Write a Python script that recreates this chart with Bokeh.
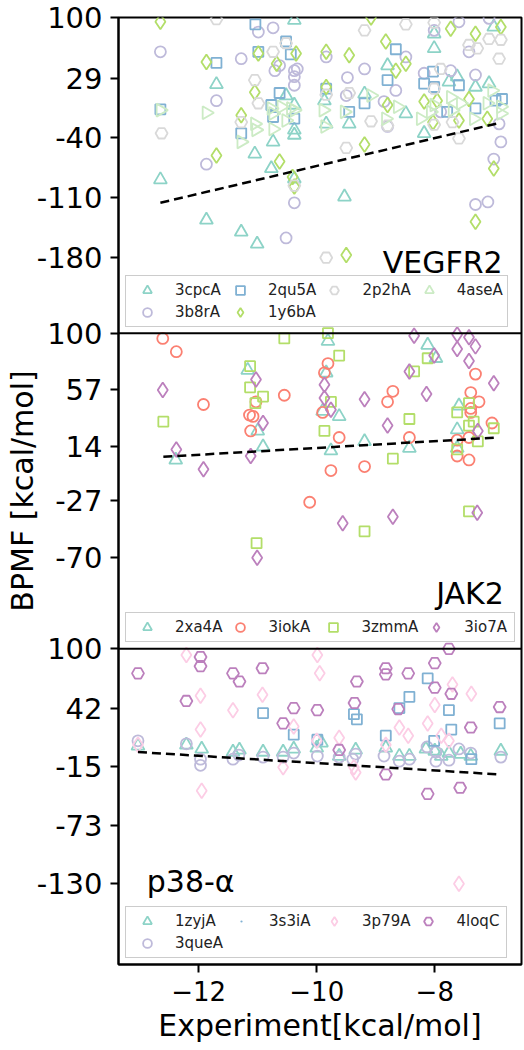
import math
from bokeh.plotting import figure
from bokeh.models import Range1d, FixedTicker, Legend, LegendItem, Span
from bokeh.embed import file_html
from bokeh.resources import INLINE
from bokeh.core.properties import value

FONT = "DejaVu Sans"

# ---------------- shared axis data ----------------
x_limits = [-13.36, -6.53]
x_ticks = [-12, -10, -8]
x_tick_labels = ["\u221212", "\u221210", "\u22128"]

# ---------------- VEGFR2 ----------------
vegfr2_ylim = [-268, 100]
vegfr2_ticks = [100, 29, -40, -110, -180]

vegfr2_3cpcA_x = [-10.38, -11.70, -8.01, -8.01, -8.80, -7.76, -7.62, -7.31, -7.08, -7.00, -10.52, -10.38, -9.87, -9.19, -9.45,
                  -9.84, -10.38, -10.38, -10.74, -11.05, -10.77, -8.18, -8.49, -12.65, -11.87, -11.28, -11.01, -10.38, -9.53]
vegfr2_3cpcA_y = [97, 22, 81, 64, 44, 25, 31, 19, 23, 89, 9, -2, 3, 11, -24,
                  -24, -31, -37, -45, -59, -76, -35, -12, -89, -136, -150, -164, -88, -109]

vegfr2_2qu5A_x = [-11.04, -10.99, -10.52, -10.44, -11.70, -12.65, -11.28, -10.63, -10.77, -10.74, -10.38, -9.84, -9.45, -9.19,
                  -8.66, -8.80, -8.18, -8.03, -8.01, -7.59, -7.79, -7.31, -6.97, -6.86]
vegfr2_2qu5A_y = [92, 60, 72, 57, 47, -7, -35, 12, -2, -16, -18, 17, -10, 0,
                  63, 27, 23, 37, 19, 21, -10, -6, 3, 5]

vegfr2_2p2hA_x = [-11.70, -9.19, -8.49, -8.01, -7.42, -7.28, -7.08, -6.88, -6.91, -10.74, -10.52, -11.05, -10.99, -11.28,
                  -12.63, -9.84, -9.45, -9.08, -9.50, -8.80, -8.01, -7.70, -7.59, -7.90, -8.01, -10.38, -9.84]
vegfr2_2p2hA_y = [98, 85, 92, 94, 68, 64, 75, 74, 52, 60, 70, 27, 0, -22,
                  -35, 10, 12, -21, -52, -26, -25, -22, -41, 40, 17, -96, -180]

vegfr2_3b8rA_x = [-12.65, -11.87, -11.70, -11.28, -10.99, -10.74, -10.71, -10.63, -10.38, -10.38, -10.38, -10.33, -9.84, -9.48,
                  -9.19, -9.50, -8.86, -8.66, -8.49, -8.18, -8.01, -7.90, -7.73, -7.59, -7.42, -7.31, -7.08, -6.91, -6.88,
                  -7.00, -8.80, -10.38, -10.52, -7.31, -7.10]
vegfr2_3b8rA_y = [60, -71, 3, 52, 83, 88, 38, 44, 38, 31, 21, 40, 54, 30,
                  40, 9, 2, 15, 54, 35, 85, -10, 38, 95, 60, 33, 99, -24, -45,
                  -65, -27, -116, -157, -118, -115]

vegfr2_4aseA_x = [-12.65, -11.87, -11.28, -11.05, -11.03, -10.77, -10.74, -10.74, -10.60, -10.52, -10.44, -10.38, -9.89, -9.86,
                  -9.53, -9.08, -8.83, -8.63, -8.24, -8.07, -8.01, -7.73, -7.70, -7.56, -7.34, -7.11, -7.03, -6.88, -6.88]
vegfr2_4aseA_y = [-8, -11, -45, -24, -31, -6, -12, -30, -4, -20, -6, -8, -8, -27,
                  -10, 9, -18, -4, -18, -10, -2, 7, -8, 0, -18, 0, 15, -4, -12]

vegfr2_1y6bA_x = [-12.65, -11.87, -11.70, -11.28, -11.05, -10.99, -10.68, -10.63, -10.35, -9.84, -9.84, -9.45, -9.19, -9.08,
                  -8.83, -8.80, -8.66, -8.49, -8.18, -8.03, -7.96, -7.73, -7.59, -7.42, -7.31, -7.11, -6.88, -7.00,
                  -10.41, -10.38, -7.31, -9.50]
vegfr2_1y6bA_y = [95, 48, -61, -14, 13, 58, 46, -68, 58, 60, 19, 56, -48, 100,
                  72, -2, 38, 46, 2, -22, 3, 87, -20, 5, 81, -18, 89, -76,
                  -86, -97, -138, -177]

vegfr2_fit_x = [-12.65, -6.88]
vegfr2_fit_y = [-116, -22.5]
vegfr2_name = "VEGFR2"
vegfr2_name_xy = [-6.85, -186.1]

# ---------------- JAK2 ----------------
jak2_ylim = [-139, 100]
jak2_ticks = [100, 57, 14, -27, -70]

jak2_2xa4A_x = [-12.39, -11.17, -11.00, -10.91, -9.81, -9.84, -9.90, -9.76, -9.62, -9.19, -8.43, -8.12, -7.98, -7.62, -7.59, -7.62]
jak2_2xa4A_y = [4, 72, 26, 14, 94, 70, 41, 11, 37, 18, 13, 91, 81, 27, 45, 13]

jak2_3iokA_x = [-12.61, -12.38, -11.92, -11.12, -11.08, -11.14, -11.03, -10.55, -9.87, -9.81, -9.90, -9.76, -9.62, -9.19,
                -8.80, -8.71, -8.43, -7.62, -7.62, -7.42, -7.42, -7.39, -7.39, -7.39, -7.31, -7.25, -7.03, -10.12]
jak2_3iokA_y = [96, 86, 46, 26, 37, 38, 48, 53, 70, 77, 40, -4, 21, -1,
                48, 56, 21, 19, 7, 4, 21, 55, 43, 40, 69, 48, 32, -28]

jak2_3zmmA_x = [-12.60, -11.13, -11.13, -11.04, -10.91, -10.55, -9.81, -9.62, -9.76, -9.87, -8.71, -8.43, -8.35, -8.12,
                -7.62, -7.62, -7.42, -7.42, -7.34, -7.27, -7.00, -11.02, -9.19, -7.42]
jak2_3zmmA_y = [33, 75, 59, 47, 52, 96, 100, 83, 48, 26, 5, 35, 71, 81,
                40, 12, 47, 30, 33, 18, 28, -59, -50, -35]

jak2_3io7A_x = [-12.61, -12.38, -11.92, -11.12, -11.03, -10.91, -9.87, -9.87, -9.76, -9.19, -8.80, -8.43, -8.35, -8.14,
                -8.01, -7.62, -7.62, -7.42, -7.42, -7.31, -7.27, -7.00, -11.01, -9.56, -8.71, -7.28]
jak2_3io7A_y = [57, 12, -3, 7, 65, 32, 61, 51, 42, 50, 30, 71, 98, 54,
                83, 99, 88, 79, 97, 90, 26, 62, -70, -44, -39, -36]

jak2_fit_x = [-12.60, -7.00]
jak2_fit_y = [6.4, 20.8]
jak2_name = "JAK2"
jak2_name_xy = [-6.83, -97.1]

# ---------------- p38-alpha ----------------
p38_ylim = [-209, 100]
p38_ticks = [100, 42, -15, -73, -130]

p38_1zyjA_x = [-13.03, -12.21, -11.95, -11.42, -11.31, -10.91, -10.57, -10.39, -10.00, -9.92, -9.62, -9.34, -8.83, -8.60,
               -8.43, -8.15, -8.00, -7.89, -7.76, -7.56, -7.39, -6.88]
p38_1zyjA_y = [5, 6, 2, -1, 1, -1, -1, 2, 3, 8, -5, 1, 3, -5,
               -5, 2, 0, -5, -2, -3, -5, 0]

p38_3queA_x = [-13.03, -12.21, -11.97, -11.97, -11.42, -11.32, -10.91, -10.57, -10.39, -9.99, -9.62, -9.34, -9.39, -8.86,
               -8.60, -8.43, -8.13, -7.98, -7.98, -7.76, -7.59, -7.39, -6.88]
p38_3queA_y = [10, 7, -8, -14, -8, -4, -6, -6, -2, -5, -6, -3, -8, -5,
               -10, -8, 4, -1, -10, -9, 2, -2, -6]

p38_3s3iA_x = [-10.91, -10.39, -9.99, -9.37, -9.32, -8.83, -8.60, -8.43, -8.12, -8.01, -7.76, -7.72, -7.38, -6.90]
p38_3s3iA_y = [37, 16, 11, 36, 31, 15, 42, 53, 71, 10, 40, 21, -8, 27]

p38_3p79A_x = [-13.03, -12.21, -11.97, -11.97, -11.95, -11.42, -10.92, -10.57, -10.39, -9.99, -9.95, -10.00, -9.62, -9.37,
               -9.34, -8.83, -8.60, -8.45, -8.12, -8.00, -7.89, -7.76, -7.70, -7.38, -7.59]
p38_3p79A_y = [6, 94, 54, 21, -39, 40, 55, -16, 24, 94, 76, 10, 13, -16,
               -21, 6, 23, 15, 27, 45, 15, 10, 65, 56, -130]

p38_4loqC_x = [-13.03, -12.21, -11.97, -11.97, -11.42, -11.31, -10.92, -10.57, -10.39, -9.99, -9.62, -9.36, -9.32, -8.83,
               -8.83, -8.83, -8.62, -8.45, -8.12, -8.00, -8.00, -7.76, -7.72, -7.57, -7.39, -6.90]
p38_4loqC_y = [76, 49, 92, 83, 76, 68, 81, 27, 42, 40, 1, 47, 68, 81,
               75, -23, 41, 76, -42, 86, 62, 100, 56, -36, 23, 43]

p38_fit_x = [-13.03, -6.90]
p38_fit_y = [-1, -23]
p38_name = "p38-\u03b1"
p38_name_xy = [-12.88, -127.3]

x_title = "Experiment[kcal/mol]"
y_title = "BPMF [kcal/mol]"

# ---------------- styling ----------------
C_TEAL = "#8dd3c7"
C_LAV = "#bebada"
C_SALMON = "#fb8072"
C_BLUE = "#80b1d3"
C_GREEN = "#b3de69"
C_PINK = "#fccde5"
C_GRAY = "#d9d9d9"
C_PURPLE = "#bc80bd"
C_LGREEN = "#ccebc5"

MARK = {
    "tri": dict(marker="triangle", size=13),
    "rtri": dict(marker="triangle", size=13, angle=-math.pi / 2),
    "circ": dict(marker="circle", size=11),
    "sq": dict(marker="square", size=10),
    "dia": dict(marker="diamond", size=15),
    "hex": dict(marker="hex", size=12),
}

W = 524
H = 1050
TOP = 17
BOTTOM = 86
LEFT = 118
RIGHT = 3
FRAME_H = H - TOP - BOTTOM
PANEL_H = FRAME_H / 3.0

# panel k (0 = bottom) occupies [k, k+1] of the shared vertical unit range [0, 3]
panels = [("p38", p38_ylim, p38_ticks, 0), ("jak2", jak2_ylim, jak2_ticks, 1), ("vegfr2", vegfr2_ylim, vegfr2_ticks, 2)]

p = figure(width=W, height=H, output_backend="svg", toolbar_location=None,
           x_range=Range1d(x_limits[0], x_limits[1]), y_range=Range1d(0, 3),
           min_border_left=LEFT, min_border_right=RIGHT, min_border_top=TOP, min_border_bottom=BOTTOM)
p.xgrid.visible = False
p.ygrid.visible = False
p.outline_line_color = "black"
p.outline_line_width = 2
p.outline_line_alpha = 1
p.background_fill_color = "white"
p.border_fill_color = "white"

tick_pos = []
tick_lab = {}
for name, lim, ticks, k in panels:
    span = lim[1] - lim[0]
    p.extra_y_ranges[name] = Range1d(lim[0] - k * span, lim[1] + (2 - k) * span)
    for v in ticks:
        pos = k + (v - lim[0]) / span
        tick_pos.append(pos)
        tick_lab[pos] = str(v)

ya = p.yaxis[0]
ya.ticker = FixedTicker(ticks=tick_pos)
ya.major_label_overrides = tick_lab
ya.major_tick_out = 8
ya.major_tick_in = 0
ya.minor_tick_out = 0
ya.minor_tick_in = 0
ya.major_tick_line_width = 2
ya.axis_line_width = 2
ya.major_label_standoff = 8
ya.major_label_text_font = FONT
ya.major_label_text_font_size = "29px"
ya.major_label_text_color = "black"
ya.axis_label = y_title
ya.axis_label_standoff = -6
ya.axis_label_text_font = FONT
ya.axis_label_text_font_size = "30px"
ya.axis_label_text_font_style = "normal"
ya.axis_label_text_color = "black"

xa = p.xaxis[0]
xa.ticker = FixedTicker(ticks=x_ticks)
xa.major_label_overrides = {t: l for t, l in zip(x_ticks, x_tick_labels)}
xa.major_tick_out = 8
xa.major_tick_in = 0
xa.minor_tick_out = 0
xa.minor_tick_in = 0
xa.major_tick_line_width = 2
xa.axis_line_width = 2
xa.major_label_standoff = 8
xa.major_label_text_font = FONT
xa.major_label_text_font_size = "26px"
xa.major_label_text_color = "black"
xa.axis_label = x_title
xa.axis_label_standoff = 4
xa.axis_label_text_font = FONT
xa.axis_label_text_font_size = "30px"
xa.axis_label_text_font_style = "normal"
xa.axis_label_text_color = "black"

# panel separators
for loc in (1, 2):
    p.add_layout(Span(location=loc, dimension="width", line_color="black", line_width=2))


def add_series(rng, xs, ys, kind, color):
    return p.scatter(xs, ys, line_color=color, fill_color=None, line_width=1.8, y_range_name=rng, **MARK[kind])


def add_fit(rng, xs, ys):
    p.line(xs, ys, line_color="black", line_width=2.5, line_dash="9 5", y_range_name=rng)


def add_name(rng, xy, text, align):
    p.text(x=[xy[0]], y=[xy[1]], text=[text], text_font=value(FONT), text_font_size="30px",
           text_align=align, text_baseline="middle", text_color="black", y_range_name=rng)


def add_legend(items, k):
    leg = Legend(items=[LegendItem(label=l, renderers=[r]) for l, r in items],
                 location=(7, k * PANEL_H + 6), orientation="horizontal", ncols=4,
                 glyph_width=36, glyph_height=22, label_standoff=10, label_width=47,
                 spacing=0, padding=3, margin=0,
                 label_text_font=FONT, label_text_font_size="15px", label_text_color="#222222",
                 border_line_color="#cccccc", border_line_width=1.5, border_line_alpha=1,
                 background_fill_color="white", background_fill_alpha=0.8)
    p.add_layout(leg)


# ---- panel VEGFR2 ----
r_3cpcA = add_series("vegfr2", vegfr2_3cpcA_x, vegfr2_3cpcA_y, "tri", C_TEAL)
r_3b8rA = add_series("vegfr2", vegfr2_3b8rA_x, vegfr2_3b8rA_y, "circ", C_LAV)
r_2qu5A = add_series("vegfr2", vegfr2_2qu5A_x, vegfr2_2qu5A_y, "sq", C_BLUE)
r_1y6bA = add_series("vegfr2", vegfr2_1y6bA_x, vegfr2_1y6bA_y, "dia", C_GREEN)
r_2p2hA = add_series("vegfr2", vegfr2_2p2hA_x, vegfr2_2p2hA_y, "hex", C_GRAY)
r_4aseA = add_series("vegfr2", vegfr2_4aseA_x, vegfr2_4aseA_y, "rtri", C_LGREEN)
add_fit("vegfr2", vegfr2_fit_x, vegfr2_fit_y)
add_name("vegfr2", vegfr2_name_xy, vegfr2_name, "right")
add_legend([("3cpcA", r_3cpcA), ("2qu5A", r_2qu5A), ("2p2hA", r_2p2hA), ("4aseA", r_4aseA),
            ("3b8rA", r_3b8rA), ("1y6bA", r_1y6bA)], 2)

# ---- panel JAK2 ----
r_2xa4A = add_series("jak2", jak2_2xa4A_x, jak2_2xa4A_y, "tri", C_TEAL)
r_3iokA = add_series("jak2", jak2_3iokA_x, jak2_3iokA_y, "circ", C_SALMON)
r_3zmmA = add_series("jak2", jak2_3zmmA_x, jak2_3zmmA_y, "sq", C_GREEN)
r_3io7A = add_series("jak2", jak2_3io7A_x, jak2_3io7A_y, "dia", C_PURPLE)
add_fit("jak2", jak2_fit_x, jak2_fit_y)
add_name("jak2", jak2_name_xy, jak2_name, "right")
add_legend([("2xa4A", r_2xa4A), ("3iokA", r_3iokA), ("3zmmA", r_3zmmA), ("3io7A", r_3io7A)], 1)

# ---- panel p38-alpha ----
r_1zyjA = add_series("p38", p38_1zyjA_x, p38_1zyjA_y, "tri", C_TEAL)
r_3queA = add_series("p38", p38_3queA_x, p38_3queA_y, "circ", C_LAV)
r_3s3iA = add_series("p38", p38_3s3iA_x, p38_3s3iA_y, "sq", C_BLUE)
r_3p79A = add_series("p38", p38_3p79A_x, p38_3p79A_y, "dia", C_PINK)
r_4loqC = add_series("p38", p38_4loqC_x, p38_4loqC_y, "hex", C_PURPLE)
# legend-only key (the reference legend shows a small dot for this series)
r_3s3iA_key = p.scatter(x=[float("nan")], y=[float("nan")], marker="dot", size=10,
                        line_color=C_BLUE, fill_color=C_BLUE, line_width=3.5, y_range_name="p38")
add_fit("p38", p38_fit_x, p38_fit_y)
add_name("p38", p38_name_xy, p38_name, "left")
add_legend([("1zyjA", r_1zyjA), ("3s3iA", r_3s3iA_key), ("3p79A", r_3p79A), ("4loqC", r_4loqC),
            ("3queA", r_3queA)], 0)

open("out.html", "w").write(file_html(p, INLINE))
